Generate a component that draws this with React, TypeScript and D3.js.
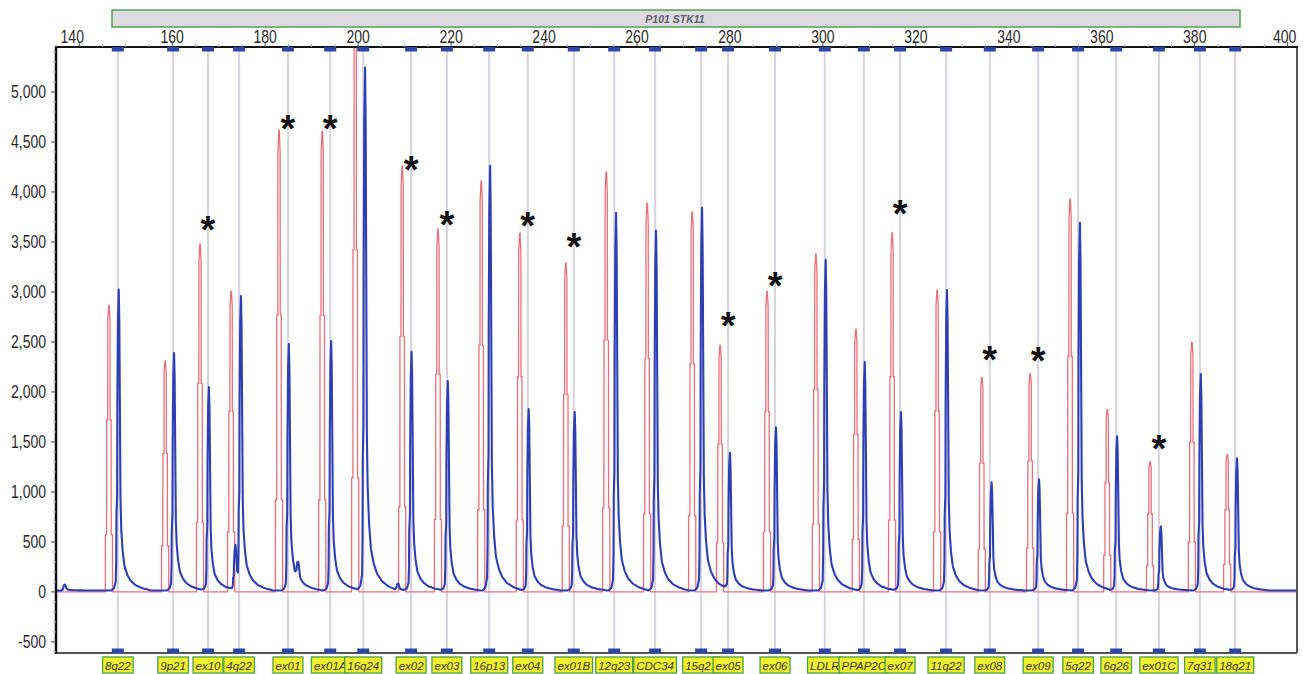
import React, { useMemo } from 'react';
import * as d3 from 'd3';

// ---------- data ----------
const probeNames = ["8q22","9p21","ex10","4q22","ex01","ex01A","16q24","ex02","ex03","16p13","ex04","ex01B","12q23","CDC34","15q21","ex05","ex06","LDLR","PPAP2C","ex07","11q22","ex08","ex09","5q22","6q26","ex01C","7q31","18q21"];
const probeSizes = [148.3,160.2,167.7,174.4,184.9,194.0,201.1,211.4,219.1,228.2,236.5,246.4,255.1,263.9,273.8,279.6,289.7,300.4,308.8,316.6,326.5,335.9,346.3,354.9,363.1,372.3,381.1,388.7];

const redSizes = [146.4,158.5,166.0,172.7,183.0,192.3,199.4,209.5,217.2,226.5,234.8,244.7,253.4,262.2,271.9,277.9,288.0,298.5,307.1,314.9,324.6,334.2,344.6,353.2,361.2,370.4,379.4,387.0];
const redHeights = [2866,2308,3477,3009,4619,4609,5700,4259,3627,4108,3587,3287,4198,3888,3801,2465,3006,3377,2625,3587,3016,2144,2184,3928,1824,1303,2495,1373];

const blueSizes = [148.5,160.4,167.9,174.8,185.1,194.2,201.5,211.5,219.3,228.4,236.7,246.6,255.5,264.1,274.0,280.0,289.9,300.6,309.0,316.8,326.7,336.3,346.5,355.3,363.3,372.7,381.3,389.1];
const blueHeights = [3009,2375,2034,2906,2465,2495,5230,2385,2094,4248,1814,1784,3778,3600,3828,1363,1633,3307,2285,1784,3006,1082,1112,3677,1543,641,2164,1323];

const minorBlueSizes = [136.9,173.6,187.1,208.6];
const minorBlueHeights = [60,430,170,70];

const starProbes = ["ex10","ex01","ex01A","ex02","ex03","ex04","ex01B","ex05","ex06","ex07","ex08","ex09","ex01C"];
const starLevels = [3707,4720,4720,4309,3758,3748,3537,2745,3146,3868,2405,2395,1523];

const xTicks = [140,160,180,200,220,240,260,280,300,320,340,360,380,400];
const yTicks = [-500,0,500,1000,1500,2000,2500,3000,3500,4000,4500,5000];
const headerLabel = "P101 STK11";

// ---------- peak shapes (style) ----------
const redKernel: [number, number][] = [[-0.8,0],[-0.78,0.2],[-0.52,0.2],[-0.5,0.6],[-0.28,0.6],[-0.26,0.95],[-0.06,1],[0.04,1],[0.22,0.95],[0.24,0.6],[0.46,0.6],[0.48,0.2],[0.74,0.2],[0.76,0]];
const blueKernel: [number, number][] = [[-1.6,0],[-1.0,0.008],[-0.65,0.03],[-0.55,0.1],[-0.5,0.25],[-0.35,0.32],[-0.3,0.62],[-0.17,0.9],[0,1],[0.12,0.9],[0.26,0.58],[0.38,0.3],[0.55,0.2],[0.85,0.13],[1.25,0.08],[1.9,0.05],[2.6,0.032],[3.6,0.018],[5,0.008],[7,0]];

function evalKernel(k: [number, number][], dx: number) {
  if (dx <= k[0][0] || dx >= k[k.length - 1][0]) return 0;
  for (let i = 1; i < k.length; i++) {
    if (dx <= k[i][0]) {
      const [x0, y0] = k[i - 1];
      const [x1, y1] = k[i];
      return y0 + ((dx - x0) / (x1 - x0)) * (y1 - y0);
    }
  }
  return 0;
}

function buildTrace(pos: number[], hts: number[], kernel: [number, number][], base: number, d0: number, d1: number) {
  const xs: number[] = [];
  for (let v = d0; v <= d1 + 1e-9; v += 0.25) xs.push(v);
  pos.forEach((p) => kernel.forEach(([dx]) => xs.push(p + dx)));
  const sorted = Array.from(new Set(xs.map((v) => +v.toFixed(4)))).sort((a, b) => a - b);
  return sorted.map((x) => {
    let s = base;
    for (let i = 0; i < pos.length; i++) {
      const dx = x - pos[i];
      if (dx > -2 && dx < 8) s += hts[i] * evalKernel(kernel, dx);
    }
    return [x, s] as [number, number];
  });
}

// ---------- layout ----------
const W = 1303, H = 674;
const L = 56, R = 1297, T = 47, B = 653;

export default function App() {
  const x = d3.scaleLinear().domain([135, 402]).range([L, R]);
  const y = d3.scaleLinear().domain([-611, 5450]).range([B, T]);

  const redTrace = useMemo(() => buildTrace(redSizes, redHeights, redKernel, 0, 135, 402), []);
  const blueTrace = useMemo(
    () => buildTrace(blueSizes.concat(minorBlueSizes), blueHeights.concat(minorBlueHeights), blueKernel, 14, 135, 402),
    []
  );
  const line = d3.line<[number, number]>().x((d) => x(d[0])).y((d) => y(d[1]));

  const labelFont = 'italic 11.5px "Liberation Sans", Arial, sans-serif';
  const widths = useMemo(() => {
    const ctx = document.createElement('canvas').getContext('2d');
    if (!ctx) return probeNames.map((n) => n.length * 6.5);
    ctx.font = labelFont;
    return probeNames.map((n) => ctx.measureText(n).width);
  }, []);

  const fmt = (v: number) => d3.format(",")(v).replace("\u2212", "-");
  const minorY = d3.range(-600, 5401, 100).filter((v) => v % 500 !== 0);
  const minorX = d3.range(135, 402, 5).filter((v) => v % 20 !== 0);

  return (
    <svg width={W} height={H} style={{ position: 'absolute', left: 0, top: 0, background: '#fff' }}
      fontFamily='"Liberation Sans", Arial, sans-serif'>
      <defs>
        <clipPath id="plotclip"><rect x={L} y={T} width={R - L} height={B - T} /></clipPath>
      </defs>
      <rect x={0} y={0} width={W} height={H} fill="#fff" />

      {/* header bar */}
      <rect x={112} y={10} width={1128} height={17} fill="#dcd9e1" stroke="#55a055" strokeWidth={1.5} />
      <text x={675} y={22.5} textAnchor="middle" fontSize={10.5} fontStyle="italic" fontWeight="bold" fill="#5f5f6a">{headerLabel}</text>

      {/* probe lines */}
      {probeSizes.map((s, i) => (
        <line key={'pl' + i} x1={x(s)} x2={x(s)} y1={T} y2={B} stroke="#d6d3dd" strokeWidth={2} />
      ))}

      {/* traces */}
      <g clipPath="url(#plotclip)">
        <path d={line(redTrace) || ''} fill="none" stroke="#e9707a" strokeWidth={1.3} />
        <path d={line(blueTrace) || ''} fill="none" stroke="#2e3fb4" strokeWidth={2.1} strokeLinejoin="round" />
      </g>

      {/* frame */}
      <line x1={R} x2={R} y1={T} y2={B} stroke="#555" strokeWidth={2} />
      <line x1={L} x2={R} y1={B} y2={B} stroke="#555" strokeWidth={2} />
      <line x1={L} x2={R + 1} y1={T} y2={T} stroke="#111" strokeWidth={2} />
      <line x1={L} x2={L} y1={T - 1} y2={B + 1} stroke="#111" strokeWidth={2.5} />

      {/* probe markers */}
      {probeSizes.map((s, i) => (
        <g key={'pm' + i}>
          <rect x={x(s) - 6} y={T} width={12} height={4.5} fill="#2a46a8" />
          <rect x={x(s) - 6} y={B - 4.5} width={12} height={4.5} fill="#2a46a8" />
        </g>
      ))}

      {/* y axis */}
      {minorY.map((v) => (
        <line key={'my' + v} x1={L - 3} x2={L} y1={y(v)} y2={y(v)} stroke="#aaa" strokeWidth={1} />
      ))}
      {yTicks.map((v) => (
        <g key={'yt' + v}>
          <line x1={L - 5} x2={L} y1={y(v)} y2={y(v)} stroke="#444" strokeWidth={1} />
          <text transform={`translate(${L - 10},${y(v) + 6.5}) scale(0.8,1)`} textAnchor="end" fontSize={17.5} fill="#2a2a2a">{fmt(v)}</text>
        </g>
      ))}

      {/* x axis (top) */}
      {minorX.map((v) => (
        <line key={'mx' + v} x1={x(v)} x2={x(v)} y1={T - 3} y2={T} stroke="#aaa" strokeWidth={1} />
      ))}
      {xTicks.map((v) => (
        <g key={'xt' + v}>
          <line x1={x(v)} x2={x(v)} y1={T - 5} y2={T} stroke="#444" strokeWidth={1} />
          <text transform={`translate(${v === 140 ? x(v) - 7 : v === 400 ? x(v) - 3 : x(v)},${43}) scale(0.8,1)`} textAnchor="middle" fontSize={17.5} fill="#2a2a2a">{v}</text>
        </g>
      ))}

      {/* stars */}
      {starProbes.map((n, i) => {
        const s = probeSizes[probeNames.indexOf(n)];
        return (
          <text key={'st' + i} x={x(s)} y={y(starLevels[i]) + 22} textAnchor="middle" fontSize={38} fontWeight="bold" fill="#111">*</text>
        );
      })}

      {/* probe labels */}
      {probeSizes.map((s, i) => {
        const w = widths[i] + 5;
        return (
          <g key={'lb' + i}>
            <rect x={x(s) - w / 2} y={657} width={w} height={16} fill="#f0ef2e" stroke="#4a9e4a" strokeWidth={1.3} />
            <text x={x(s)} y={669.5} textAnchor="middle" fontSize={11.5} fontStyle="italic" fill="#3a3a3a">{probeNames[i]}</text>
          </g>
        );
      })}
    </svg>
  );
}
